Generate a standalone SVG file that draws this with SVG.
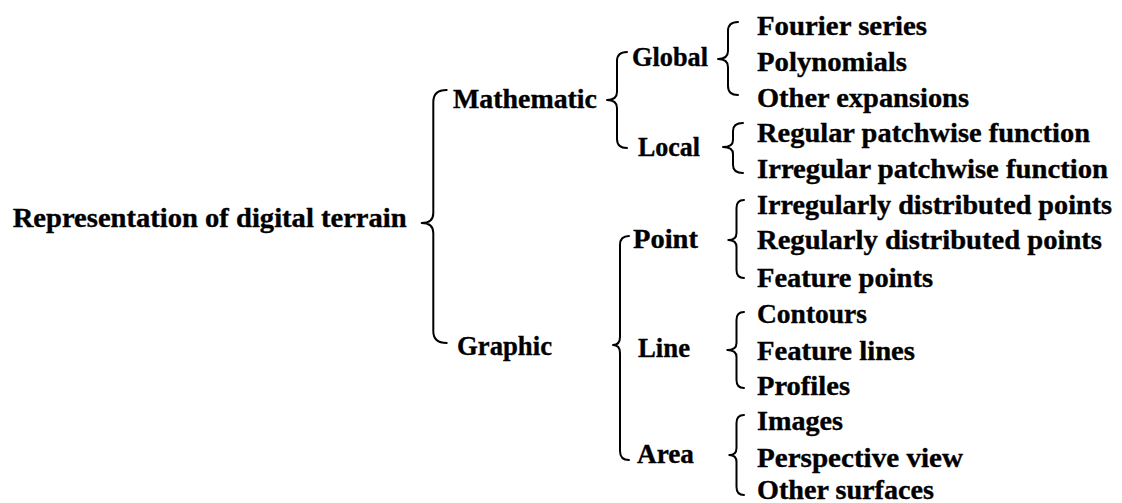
<svg xmlns="http://www.w3.org/2000/svg" width="1122" height="503" viewBox="0 0 1122 503">
<style>
text{font-family:"Liberation Serif","Times New Roman",serif;font-weight:bold;font-size:26.5px;fill:#000;stroke:#000;stroke-width:0.35;}
.br{fill:none;stroke:#000;stroke-width:2;stroke-linecap:round;stroke-linejoin:round;}
</style>
<rect width="1122" height="503" fill="#fff"/>
<g id="connectors">
<path class="br" d="M446.7,90 Q433.3,90 433.3,102 L433.3,213 Q433.3,223 421.7,223 Q433.3,223 433.3,233 L433.3,331 Q433.3,343 446.7,343"/>
<path class="br" d="M627,52 Q617,52 617,61 L617,92 Q617,100 607,100 Q617,100 617,108 L617,139 Q617,148 627,148"/>
<path class="br" d="M738,22 Q728,22 728,31 L728,51 Q728,59 718,59 Q728,59 728,67 L728,86 Q728,95 738,95"/>
<path class="br" d="M743,123 Q733,123 733,131 L733,140 Q733,147 723,147 Q733,147 733,154 L733,165 Q733,173 743,173"/>
<path class="br" d="M629,236 Q620,236 620,245 L620,337 Q620,345 613,345 Q620,345 620,353 L620,451 Q620,460 629,460"/>
<path class="br" d="M744,200 Q736.5,200 736.5,208 L736.5,233 Q736.5,240 728.3,240 Q736.5,240 736.5,247 L736.5,270 Q736.5,278 744,278"/>
<path class="br" d="M744,312 Q736.5,312 736.5,320 L736.5,343 Q736.5,350 727.3,350 Q736.5,350 736.5,357 L736.5,380 Q736.5,388 744,388"/>
<path class="br" d="M744,415 Q736.5,415 736.5,423 L736.5,448 Q736.5,455 729.3,455 Q736.5,455 736.5,462 L736.5,487 Q736.5,495 744,495"/>
</g>
<g id="root"><text x="12.7" y="227" textLength="394" lengthAdjust="spacingAndGlyphs">Representation of digital terrain</text></g>
<g id="mathematic"><text x="453" y="108" textLength="144" lengthAdjust="spacingAndGlyphs">Mathematic</text></g>
<g id="graphic"><text x="457" y="355" textLength="95" lengthAdjust="spacingAndGlyphs">Graphic</text></g>
<g id="global"><text x="632" y="66" textLength="76" lengthAdjust="spacingAndGlyphs">Global</text></g>
<g id="local"><text x="638" y="156" textLength="62" lengthAdjust="spacingAndGlyphs">Local</text></g>
<g id="point"><text x="633" y="248" textLength="65" lengthAdjust="spacingAndGlyphs">Point</text></g>
<g id="line"><text x="638" y="357" textLength="52" lengthAdjust="spacingAndGlyphs">Line</text></g>
<g id="area"><text x="637" y="463" textLength="57" lengthAdjust="spacingAndGlyphs">Area</text></g>
<g id="fourier"><text x="757" y="35" textLength="170" lengthAdjust="spacingAndGlyphs">Fourier series</text></g>
<g id="polynomials"><text x="757" y="71" textLength="150" lengthAdjust="spacingAndGlyphs">Polynomials</text></g>
<g id="other-expansions"><text x="757" y="106.5" textLength="212" lengthAdjust="spacingAndGlyphs">Other expansions</text></g>
<g id="regular-patchwise"><text x="757" y="142" textLength="333" lengthAdjust="spacingAndGlyphs">Regular patchwise function</text></g>
<g id="irregular-patchwise"><text x="757" y="177.5" textLength="351" lengthAdjust="spacingAndGlyphs">Irregular patchwise function</text></g>
<g id="irregular-points"><text x="757" y="214" textLength="355" lengthAdjust="spacingAndGlyphs">Irregularly distributed points</text></g>
<g id="regular-points"><text x="757" y="249" textLength="345" lengthAdjust="spacingAndGlyphs">Regularly distributed points</text></g>
<g id="feature-points"><text x="757" y="287" textLength="176" lengthAdjust="spacingAndGlyphs">Feature points</text></g>
<g id="contours"><text x="757" y="323" textLength="110" lengthAdjust="spacingAndGlyphs">Contours</text></g>
<g id="feature-lines"><text x="757" y="360" textLength="158" lengthAdjust="spacingAndGlyphs">Feature lines</text></g>
<g id="profiles"><text x="757" y="395" textLength="93" lengthAdjust="spacingAndGlyphs">Profiles</text></g>
<g id="images"><text x="757" y="430" textLength="86" lengthAdjust="spacingAndGlyphs">Images</text></g>
<g id="perspective"><text x="757" y="467" textLength="206" lengthAdjust="spacingAndGlyphs">Perspective view</text></g>
<g id="other-surfaces"><text x="757" y="498.5" textLength="177" lengthAdjust="spacingAndGlyphs">Other surfaces</text></g>
</svg>
